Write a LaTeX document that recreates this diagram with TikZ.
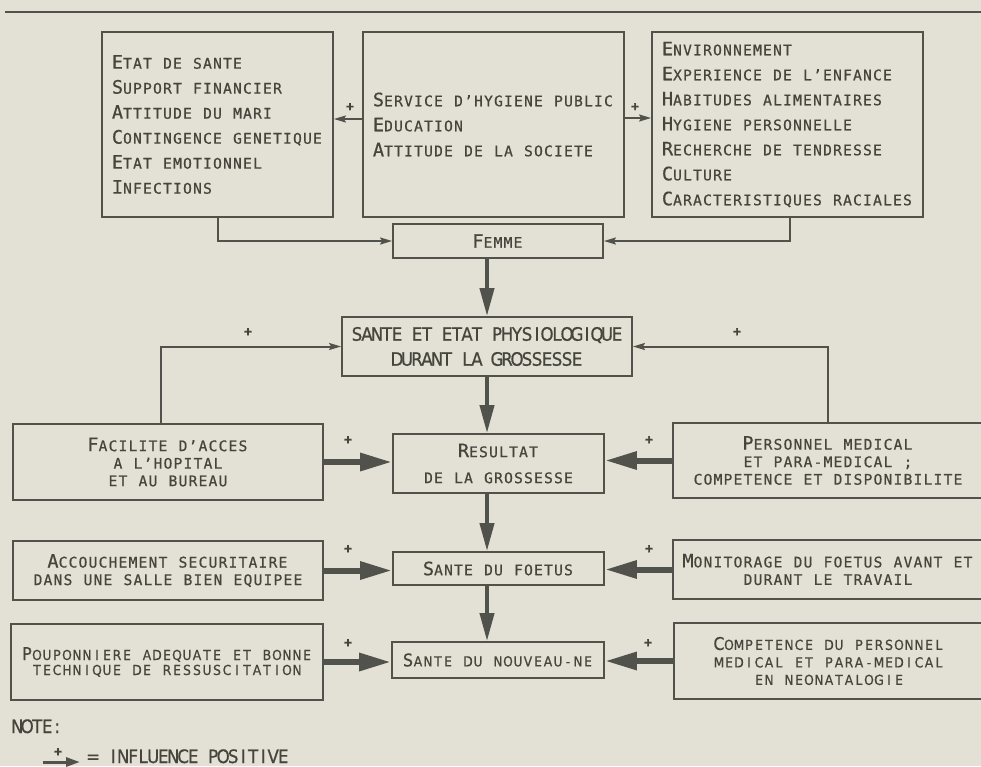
\documentclass[tikz,border=0pt]{standalone}
\usepackage{fontspec}
\usetikzlibrary{arrows.meta}
\newfontfamily\monof[FakeBold=0.6]{DejaVu Sans Mono}
\newfontfamily\condf[FakeStretch=0.9,FakeBold=0.6]{DejaVu Sans}
\definecolor{bg}{HTML}{E3E1D5}
\definecolor{ink}{HTML}{52524C}
\definecolor{txt}{HTML}{45453D}
\newlength\pchw \setlength\pchw{10pt}
\ExplSyntaxOn
\NewDocumentCommand\pch{m}{\str_map_inline:nn {#1} {\makebox[\pchw]{##1}}}
\ExplSyntaxOff
\newcommand\SC[3][18.5]{\makebox[\pchw]{\fontsize{#1}{#1}\selectfont #2}\pch{#3}}
\begin{document}
\begin{tikzpicture}[x=1pt,y=-1pt,
  box/.style={draw=ink, line width=1.8pt, inner sep=0pt, text=txt},
  tfont/.style={font=\monof\fontsize{14.6}{25}\selectfont},
  mfont/.style={font=\monof\fontsize{14.6}{17.5}\selectfont},
  cfont/.style={font=\condf\fontsize{13.8}{17.5}\selectfont},
  plus/.style={text=txt, inner sep=0pt, font=\monof\bfseries\fontsize{13}{13}\selectfont},
  smallarr/.style={draw=ink, line width=2pt, -{Stealth[length=12pt,width=7pt,inset=2pt]}},
  midarr/.style={draw=ink, line width=4pt, -{Triangle[length=28pt,width=14pt]}},
  thickarr/.style={draw=ink, line width=6pt, -{Triangle[length=32pt,width=17pt]}},
  legarr/.style={draw=ink, line width=3pt, -{Triangle[length=14pt,width=9pt]}}
]
\useasboundingbox (0,0) rectangle (981,766);
\clip (0,0) rectangle (981,766);
\fill[bg] (0,0) rectangle (981,766);
\coordinate (r1) at (5,12); \coordinate (r2) at (985,12);
\draw[ink, line width=2.2pt] (r1) -- (r2);

% top boxes
\node[box, tfont, align=left, minimum width=231pt, minimum height=185pt] (b1) at (217.5,124.5)
 {\SC{E}{TAT DE SANTE}\\\SC{S}{UPPORT FINANCIER}\\\SC{A}{TTITUDE DU MARI}\\\SC{C}{ONTINGENCE GENETIQUE}\\\SC{E}{TAT EMOTIONNEL}\\\SC{I}{NFECTIONS}};
\node[box, tfont, align=left, minimum width=261pt, minimum height=185pt] (b2) at (493.5,124.5)
 {\SC{S}{ERVICE D’HYGIENE PUBLIC}\\\SC{E}{DUCATION}\\\SC{A}{TTITUDE DE LA SOCIETE}};
\node[box, tfont, align=left, minimum width=271pt, minimum height=185pt] (b3) at (787.5,124.5)
 {\SC{E}{NVIRONNEMENT}\\\SC{E}{XPERIENCE DE L’ENFANCE}\\\SC{H}{ABITUDES ALIMENTAIRES}\\\SC{H}{YGIENE PERSONNELLE}\\\SC{R}{ECHERCHE DE TENDRESSE}\\\SC{C}{ULTURE}\\\SC{C}{ARACTERISTIQUES RACIALES}};

\node[box, tfont, minimum width=210pt, minimum height=34pt] (fem) at (498,241) {\SC{F}{EMME}};
\node[box, align=center, font=\condf\fontsize{18.5}{25}\selectfont, minimum width=290pt, minimum height=59pt] (sante) at (487,346.5)
 {\pch{SANTE ET ETAT PHYSIOLOGIQUE}\\\pch{DURANT LA GROSSESSE}};

% middle row
\node[box, mfont, align=center, minimum width=310pt, minimum height=76pt] (fac) at (168,462)
 {\SC{F}{ACILITE D’ACCES}\\\pch{A L’HOPITAL}\\\pch{ET AU BUREAU}};
\node[box, align=center, font=\monof\fontsize{14.6}{26}\selectfont, minimum width=211pt, minimum height=59pt] (res) at (498.5,463.5)
 {\SC{R}{ESULTAT}\\\pch{DE LA GROSSESSE}};
\node[box, mfont, align=center, minimum width=310pt, minimum height=75pt] (pers) at (828,460.5)
 {\SC{P}{ERSONNEL MEDICAL}\\\pch{ET PARA-MEDICAL ;}\\\pch{COMPETENCE ET DISPONIBILITE}};

\node[box, mfont, align=center, minimum width=310pt, minimum height=59pt] (acc) at (168,570.5)
 {\SC{A}{CCOUCHEMENT SECURITAIRE}\\\pch{DANS UNE SALLE BIEN EQUIPEE}};
\node[box, mfont, minimum width=211pt, minimum height=33pt] (foe) at (498.5,568.5) {\SC{S}{ANTE DU FOETUS}};
\node[box, mfont, align=center, minimum width=310pt, minimum height=59pt] (mon) at (828,569.5)
 {\SC{M}{ONITORAGE DU FOETUS AVANT ET}\\\pch{DURANT LE TRAVAIL}};

% bottom row
\node[box, align=center, font=\condf\fontsize{13.8}{15}\selectfont, minimum width=312pt, minimum height=76pt] (pou) at (167,662)
 {\SC[17.5]{P}{OUPONNIERE ADEQUATE ET BONNE}\\\pch{TECHNIQUE DE RESSUSCITATION}};
\node[box, cfont, minimum width=212pt, minimum height=36pt] (nn) at (498,660) {\SC[17.5]{S}{ANTE DU NOUVEAU-NE}};
\node[box, cfont, align=center, minimum width=310pt, minimum height=76pt] (comp) at (829,661)
 {\SC[17.5]{C}{OMPETENCE DU PERSONNEL}\\\pch{MEDICAL ET PARA-MEDICAL}\\\pch{EN NEONATALOGIE}};

% connectors
\path ([yshift=5.5pt]b2.west) coordinate (t1s);
\draw[smallarr] (t1s) -- (t1s -| b1.east);
\path ([yshift=6.5pt]b2.east) coordinate (t2s);
\draw[smallarr] (t2s) -- (t2s -| b3.west);
\draw[smallarr] ([xshift=0.5pt]b1.south) |- (fem.west);
\draw[smallarr] ([xshift=2.5pt]b3.south) |- (fem.east);

\draw[midarr] (fem.south -| sante.north) -- (sante.north);
\draw[midarr] (sante.south) -- (sante.south |- res.north);
\draw[midarr] (res.south -| sante.south) -- (foe.north -| sante.south);
\draw[midarr] (foe.south -| sante.south) -- (nn.north -| sante.south);

\draw[smallarr] ([xshift=-7pt]fac.north) |- (sante.west);
\draw[smallarr] (pers.north) |- (sante.east);

\draw[thickarr] (fac.east) -- (fac.east -| res.west);
\draw[thickarr] (pers.west) -- (pers.west -| res.east);
\draw[thickarr] (acc.east) -- (acc.east -| foe.west);
\draw[thickarr] (mon.west) -- (mon.west -| foe.east);
\draw[thickarr] (pou.east) -- (pou.east -| nn.west);
\draw[thickarr] (comp.west) -- (comp.west -| nn.east);

% plus signs
\node[plus] (p1) at (350,107) {+};
\node[plus] (p2) at (635,107) {+};
\node[plus] (p3) at (248,332) {+};
\node[plus] (p4) at (737,332) {+};
\node[plus] (p5) at (348,440) {+};
\node[plus] (p6) at (649,440) {+};
\node[plus] (p7) at (348,549) {+};
\node[plus] (p8) at (649,549) {+};
\node[plus] (p9) at (348,643) {+};
\node[plus] (p10) at (648,643) {+};

% note
\node[anchor=base west, inner sep=0pt, text=txt, font=\condf\fontsize{18.5}{20}\selectfont] (note) at (12,733) {\pch{NOTE:}};
\coordinate (l1) at (43,762); \coordinate (l2) at (80,762);
\draw[legarr] (l1) -- (l2);
\node[plus] (pl) at (58,752) {+};
\node[anchor=base west, inner sep=0pt, text=txt, font=\condf\fontsize{18.5}{20}\selectfont] (leg) at (88,763) {\pch{= INFLUENCE POSITIVE}};
\end{tikzpicture}
\end{document}
